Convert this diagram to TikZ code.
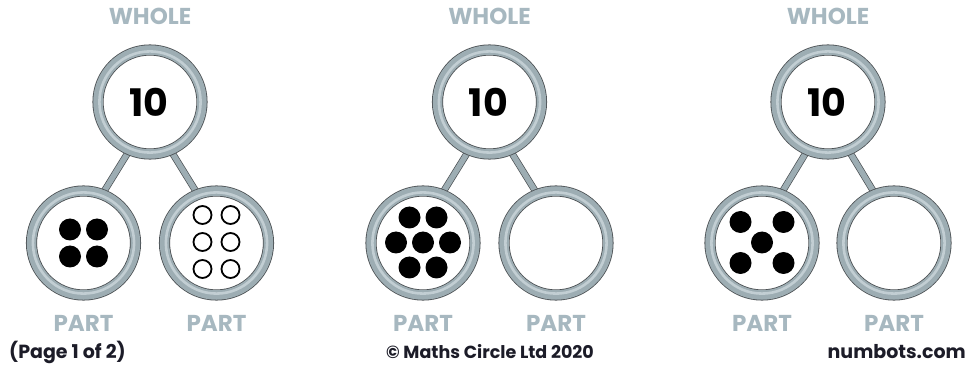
\documentclass[tikz,border=0pt]{standalone}
\usepackage{fontspec}
\setmainfont{Poppins}
\usetikzlibrary{backgrounds}
\definecolor{ringgray}{HTML}{9DADB3}
\definecolor{ringlight}{HTML}{C2CED3}
\definecolor{ringdark}{HTML}{4A4F52}
\definecolor{labelgray}{HTML}{A7B8C0}
\definecolor{foottext}{HTML}{1C1C28}
\tikzset{
  ring/.style={circle, draw=ringdark, line width=0.8pt, double=ringgray, double distance=9.5pt, fill=white, minimum size=104pt, inner sep=0pt, outer sep=0pt},
  ringhl/.style={draw=ringlight, line width=2.6pt},
  link/.style={draw=ringdark, line width=0.7pt, double=ringgray, double distance=5.5pt},
  wlbl/.style={font=\bfseries\fontsize{23}{23}\selectfont, text=labelgray, inner sep=0pt},
  plbl/.style={font=\bfseries\fontsize{23}{23}\selectfont, text=labelgray, inner sep=0pt},
  num/.style={font=\bfseries\fontsize{38}{38}\selectfont, text=black, inner sep=0pt},
  fdot/.style={circle, fill=black, minimum size=22pt, inner sep=0pt},
  odot/.style={circle, draw=black, line width=1.8pt, minimum size=18pt, inner sep=0pt},
  foot/.style={font=\bfseries\fontsize{19}{19}\selectfont, text=foottext, inner sep=0pt},
}
\begin{document}
\begin{tikzpicture}[x=1pt,y=-1pt]
\useasboundingbox (0,0) rectangle (970,366);
% ---------- diagram 1 ----------
\node[wlbl] (wl1) at (150,16) {WHOLE};
\node[ring] (w1) at (150,102) {};
\node[ring] (a1) at (83.5,243) {};
\node[ring] (b1) at (216.5,243) {};
% ---------- diagram 2 ----------
\node[wlbl] (wl2) at (489.5,16) {WHOLE};
\node[ring] (w2) at (489.5,102) {};
\node[ring] (a2) at (423,243) {};
\node[ring] (b2) at (556,243) {};
% ---------- diagram 3 ----------
\node[wlbl] (wl3) at (828,16) {WHOLE};
\node[ring] (w3) at (828,102) {};
\node[ring] (a3) at (762,243) {};
\node[ring] (b3) at (894,243) {};
% ---------- ring highlights ----------
\foreach \r in {w1,a1,b1,w2,a2,b2,w3,a3,b3}{
  \draw[ringhl] (\r.center) circle (50.6pt);
}
% ---------- contents ----------
\node[num] (n1) at (149,102) {10};
\node[num] (n2) at (488.5,102) {10};
\node[num] (n3) at (827,102) {10};
\node[plbl] (pa1) at (83.5,323) {PART};
\node[plbl] (pb1) at (216.5,323) {PART};
\node[plbl] (pa2) at (423,323) {PART};
\node[plbl] (pb2) at (556,323) {PART};
\node[plbl] (pa3) at (762,323) {PART};
\node[plbl] (pb3) at (894,323) {PART};
\node[fdot] (a1d1) at (70,229.5) {};
\node[fdot] (a1d2) at (97,229.5) {};
\node[fdot] (a1d3) at (70,256.5) {};
\node[fdot] (a1d4) at (97,256.5) {};
\node[odot] (b1o1) at (202.5,215) {};
\node[odot] (b1o2) at (230.5,215) {};
\node[odot] (b1o3) at (202.5,242) {};
\node[odot] (b1o4) at (230.5,242) {};
\node[odot] (b1o5) at (202.5,269) {};
\node[odot] (b1o6) at (230.5,269) {};
\node[fdot] (a2d1) at (409.5,217.5) {};
\node[fdot] (a2d2) at (436.5,217.5) {};
\node[fdot] (a2d3) at (396,242.5) {};
\node[fdot] (a2d4) at (423,242.5) {};
\node[fdot] (a2d5) at (450,242.5) {};
\node[fdot] (a2d6) at (409.5,267.5) {};
\node[fdot] (a2d7) at (436.5,267.5) {};
\node[fdot] (a3d1) at (740.5,222) {};
\node[fdot] (a3d2) at (783.5,222) {};
\node[fdot] (a3d3) at (762,242.5) {};
\node[fdot] (a3d4) at (740.5,263) {};
\node[fdot] (a3d5) at (783.5,263) {};
% ---------- connectors ----------
\begin{scope}[on background layer]
\foreach \i in {1,2,3}{
  \draw[link] (w\i.247) -- (a\i.69);
  \draw[link] (w\i.293) -- (b\i.111);
}
\end{scope}
% ---------- footer ----------
\node[foot, anchor=west] (pg) at (9,352) {(Page 1 of 2)};
\node[foot, font=\bfseries\fontsize{17.5}{17.5}\selectfont] (cr) at (490,352) {© Maths Circle Ltd 2020};
\node[foot, anchor=east] (nb) at (966,352) {numbots.com};
\end{tikzpicture}
\end{document}
